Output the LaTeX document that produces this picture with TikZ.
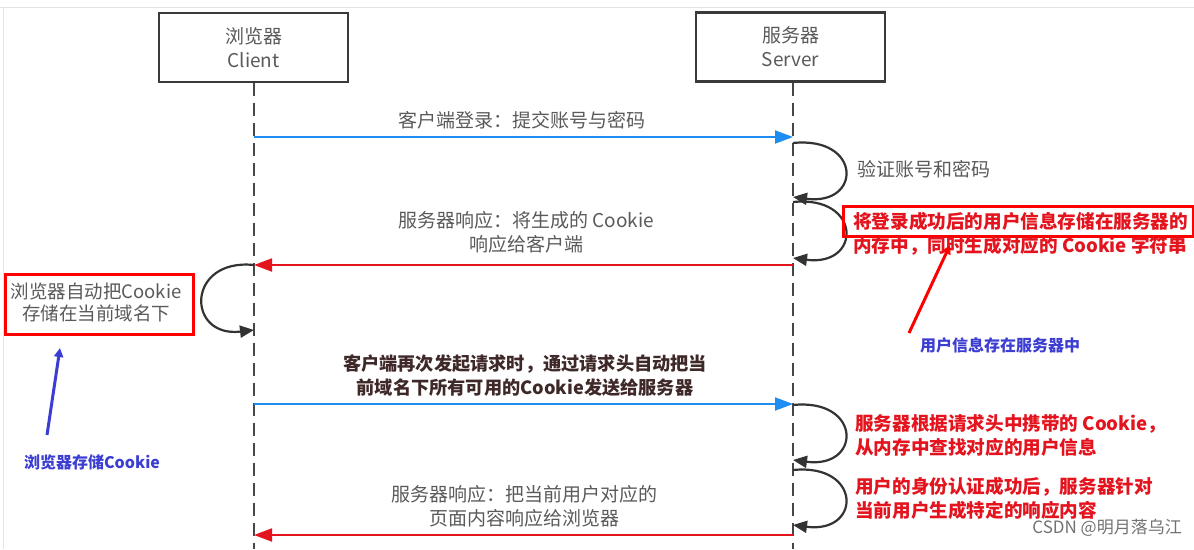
\documentclass[tikz,border=0pt]{standalone}
\usepackage{fontspec}
\setmainfont{Noto Sans CJK SC}
\usetikzlibrary{arrows.meta}
\definecolor{txtgray}{RGB}{90,90,90}
\definecolor{boxline}{RGB}{58,58,58}
\definecolor{lifegray}{RGB}{70,70,70}
\definecolor{reqblue}{RGB}{30,140,240}
\definecolor{resred}{RGB}{228,20,30}
\definecolor{annred}{RGB}{255,0,0}
\definecolor{annblue}{RGB}{60,62,210}
\definecolor{darklbl}{RGB}{62,40,40}
\definecolor{framegray}{RGB}{228,228,228}
\newcommand\lblfont{\fontsize{19}{24}\selectfont}
\newcommand\redfont{\fontsize{18.6}{24}\selectfont\bfseries}
\newcommand\annfont{\fontsize{16}{20}\selectfont\bfseries}
\begin{document}
\begin{tikzpicture}[x=1pt,y=-1pt,
  actor/.style={draw=boxline,line width=2.5pt,fill=white,minimum width=189pt,minimum height=69pt,
    align=center,text=txtgray,font=\lblfont},
  lifeline/.style={draw=lifegray,line width=2.8pt,dash pattern=on 13pt off 7pt},
  reqarrow/.style={draw=reqblue,line width=2pt,-{Triangle[length=18pt,width=13pt]}},
  resarrow/.style={draw=resred,line width=2pt,-{Triangle[length=18pt,width=13pt]}},
  selfloop/.style={draw=black!80,line width=2.2pt,-{Triangle[length=14pt,width=12pt]}},
  lbl/.style={text=txtgray,font=\lblfont,align=center,inner sep=0pt},
  redlbl/.style={text=resred,font=\redfont,align=left,inner sep=0pt},
  annbox/.style={draw=annred,line width=3pt,inner sep=0pt},
  annarrow/.style={line width=3pt,-{Triangle[length=9pt,width=9pt]}},
  annlbl/.style={text=annblue,font=\annfont,inner sep=0pt}]
\useasboundingbox (0,0) rectangle (1194,549);
\fill[white] (0,0) rectangle (1194,549);
% faint frame
\draw[framegray,line width=1pt] (0,7) -- (1194,7);
\draw[framegray,line width=1pt] (3,7) -- (3,549);

% actors
\node[actor] (client) at (253.5,47.5) {浏览器\\Client};
\node[actor] (server) at (790.5,47) {服务器\\Server};

% lifelines
\coordinate (cEnd) at (254,549);
\coordinate (sEnd) at (793,549);
\draw[lifeline] (client.south -| cEnd) -- (cEnd);
\draw[lifeline] (server.south -| sEnd) -- (sEnd);

% message coordinates
\coordinate (c1) at (254,137); \coordinate (s1) at (793,137);
\coordinate (c2) at (254,265); \coordinate (s2) at (793,265);
\coordinate (c3) at (254,404); \coordinate (s3) at (793,404);
\coordinate (c4) at (254,535); \coordinate (s4) at (793,535);

% messages
\draw[reqarrow] (c1) -- (s1);
\node[lbl] (m1) at (522,120) {客户端登录：提交账号与密码};
\draw[resarrow] (s2) -- (c2);
\node[lbl] (m2) at (526,232) {服务器响应：将生成的 Cookie\\响应给客户端};
\draw[reqarrow] (c3) -- (s3);
\node[lbl,text=darklbl,font=\fontsize{18.2}{24}\selectfont\bfseries] (m3) at (525,376) {客户端再次发起请求时，通过请求头自动把当\\前域名下所有可用的Cookie发送给服务器};
\draw[resarrow] (s4) -- (c4);
\node[lbl] (m4) at (524,506) {服务器响应：把当前用户对应的\\页面内容响应给浏览器};

% server self loops
\coordinate (l1a) at (793,143); \coordinate (l1b) at (793,197);
\coordinate (l2a) at (793,202); \coordinate (l2b) at (793,258);
\coordinate (l3a) at (793,405); \coordinate (l3b) at (793,460);
\coordinate (l4a) at (793,470); \coordinate (l4b) at (793,525);
\draw[selfloop] (l1a) .. controls (862,136) and (862,206) .. (l1b);
\draw[selfloop] (l2a) .. controls (862,195) and (862,267) .. (l2b);
\draw[selfloop] (l3a) .. controls (862,398) and (862,469) .. (l3b);
\draw[selfloop] (l4a) .. controls (862,463) and (862,534) .. (l4b);

% client self loop
\coordinate (cl1) at (254,265); \coordinate (cl2) at (254,330);
\draw[selfloop] (cl1) .. controls (186,258) and (186,338) .. (cl2);

% loop labels
\node[lbl,anchor=west] (v1) at (857,169) {验证账号和密码};
\node[annbox,minimum width=350pt,minimum height=30pt] (rb1) at (1018,221) {};
\node[redlbl,anchor=west] (r1) at (853,221) {将登录成功后的用户信息存储在服务器的};
\node[redlbl,anchor=west] (r2) at (853,246) {内存中，同时生成对应的 Cookie 字符串};
\node[redlbl,anchor=west] (r3) at (855,435) {服务器根据请求头中携带的 Cookie，\\从内存中查找对应的用户信息};
\node[redlbl,anchor=west] (r4) at (855,498.5) {用户的身份认证成功后，服务器针对\\当前用户生成特定的响应内容};

% client annotation box
\node[annbox,minimum width=188pt,minimum height=60pt] (lb) at (99,304) {};
\node[lbl,font=\fontsize{18.5}{22}\selectfont] (lbt) at (96,302.5) {浏览器自动把Cookie\\存储在当前域名下};

% annotation arrows and labels
\node[annlbl] (ann1) at (92,462) {浏览器存储Cookie};
\coordinate (a1s) at (47,435); \coordinate (a1e) at (60,348);
\draw[annarrow,annblue] (a1s) -- (a1e);
\node[annlbl] (ann2) at (1000,345) {用户信息存在服务器中};
\coordinate (a2s) at (909,333); \coordinate (a2e) at (950,245);
\draw[annarrow,annred] (a2s) -- (a2e);

% watermark
\node[text=black!55,font=\fontsize{17}{20}\selectfont,anchor=east,inner sep=0pt] (wm) at (1182,528) {CSDN @明月落乌江};
\end{tikzpicture}
\end{document}
